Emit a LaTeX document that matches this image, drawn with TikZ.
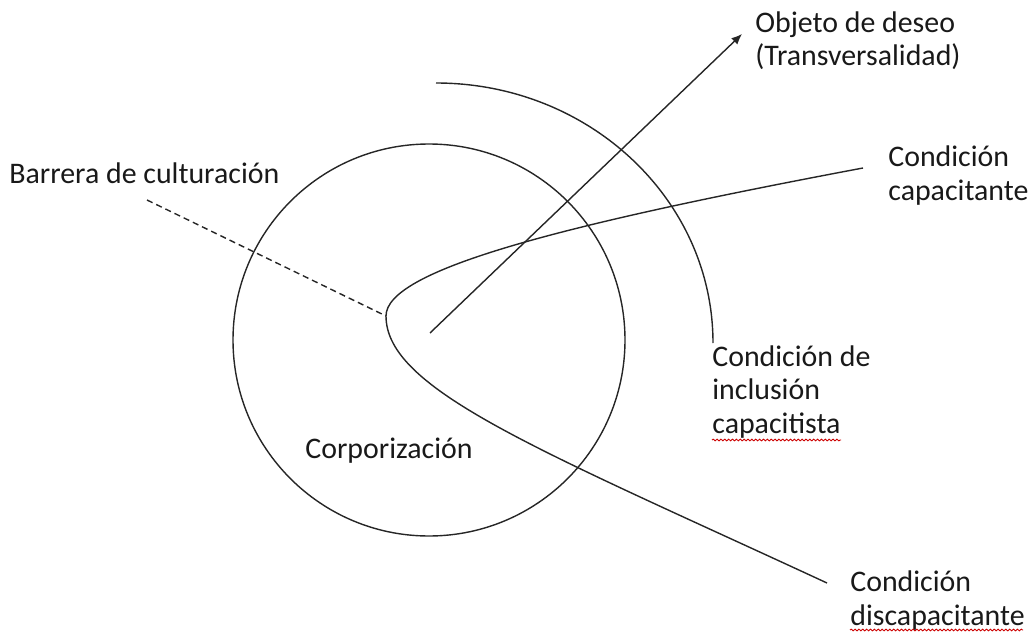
\documentclass[tikz,border=0pt]{standalone}
\usepackage{fontspec}
\setmainfont{Carlito}
\usetikzlibrary{arrows.meta,decorations.pathmorphing}
\tikzset{
  label text/.style={anchor=base west, align=left, inner sep=0pt, text=black!90,
    font=\fontsize{17}{19}\selectfont},
  stroke/.style={line width=0.8pt, draw=black!85},
  spell/.style={draw=red!80!black, line width=0.5pt, decorate,
    decoration={snake, amplitude=0.5pt, segment length=2.2pt}}
}
\begin{document}
\begin{tikzpicture}[x=0.02cm,y=-0.02cm]
    \useasboundingbox (0,0) rectangle (1029,632);
    % points of the drawing
    \coordinate (centre) at (429,340);
    \coordinate (apex) at (386,316);      % tip of the curve
    \coordinate (origin) at (430,333);    % foot of the arrow
    \coordinate (tip) at (742,34);
    \coordinate (arcstart) at (436,83);
    \coordinate (barrier) at (147,200);
    \coordinate (capend) at (863,168);
    \coordinate (disend) at (827,583);
    % texts (placed at the baseline of their last line)
    \node[label text] (desire) at (755,66) {Objeto de deseo\\(Transversalidad)};
    \node[label text] (enabling) at (888,200) {Condición\\capacitante};
    \node[label text] (barrera) at (9,183) {Barrera de culturación};
    \node[label text] (inclusion) at (712,433) {Condición de\\inclusión\\capacitista};
    \node[label text] (corpo) at (305,458) {Corporización};
    \node[label text] (disabling) at (850,625) {Condición\\discapacitante};
    % shapes
    \draw[stroke] (centre) circle (196);
    \draw[stroke] (arcstart) arc[start angle=-90, end angle=0, x radius=277, y radius=260];
    \draw[stroke] (capend) .. controls (560,225) and (386,270) .. (apex)
        .. controls (386,390) and (540,450) .. (disend);
    \draw[stroke, dash pattern=on 3.5pt off 2.3pt] (barrier) -- (apex);
    \draw[stroke, -{Latex[length=6pt,width=5pt]}] (origin) -- (tip);
    % spell marks
    \draw[spell] (712,440) -- (841,440);
    \draw[spell] (850,630) -- (1023,630);
\end{tikzpicture}
\end{document}
